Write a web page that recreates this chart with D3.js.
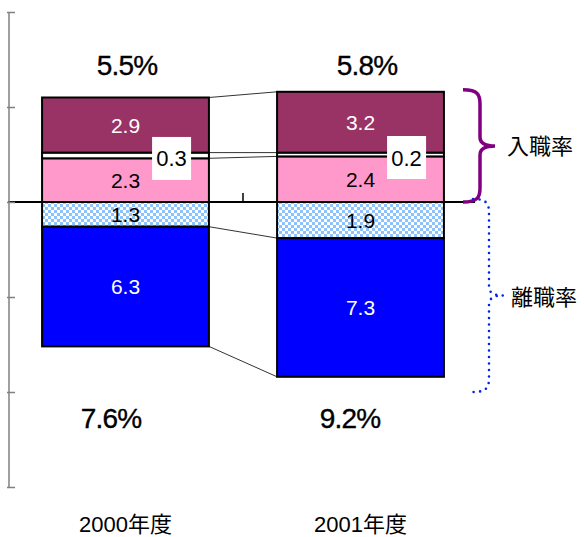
<!DOCTYPE html>
<html>
<head>
<meta charset="utf-8">
<script src="https://cdn.jsdelivr.net/npm/d3@7"></script>
<style>
  body { margin: 0; background: #fff; }
  text { font-family: "Liberation Sans", Arial, "Noto Sans CJK JP", sans-serif; }
</style>
</head>
<body>
<svg id="chart" width="584" height="537"></svg>
<script>
// Fiscal years
const years = ["2000年度", "2001年度"];
// 入職率 components (stacked upward from zero)
const entryLower = [2.3, 2.4];
const entrySmall = [0.3, 0.2];
const entryUpper = [2.9, 3.2];
// 離職率 components (stacked downward from zero)
const exitUpper = [1.3, 1.9];
const exitLower = [6.3, 7.3];
// Axis ticks (unlabelled)
const axisTicks = [-15, -10, -5, 0, 5, 10];
// Bracket captions
const groupLabels = ["入職率", "離職率"];

const svg = d3.select("#chart");

const x = d3.scaleBand().domain(years).range([8, 478])
  .paddingInner(0.29).paddingOuter(0.145);
const y = d3.scaleLinear().domain([-15, 10]).range([487, 12]);
const fmt = d3.format(".1f");

// checker pattern for the light-blue segment
const defs = svg.append("defs");
const pat = defs.append("pattern").attr("id", "chk")
  .attr("width", 6).attr("height", 6).attr("patternUnits", "userSpaceOnUse");
pat.append("rect").attr("width", 6).attr("height", 6).attr("fill", "#fff");
pat.append("rect").attr("width", 3).attr("height", 3).attr("fill", "#8CC3FF");
pat.append("rect").attr("x", 3).attr("y", 3).attr("width", 3).attr("height", 3).attr("fill", "#8CC3FF");

const positive = [
  { values: entryLower, fill: "#FF99CC", ink: "#000" },
  { values: entrySmall, fill: "#FFFFFF", ink: "#000", callout: true },
  { values: entryUpper, fill: "#993366", ink: "#fff" }
];
const negative = [
  { values: exitUpper, fill: "url(#chk)", ink: "#000" },
  { values: exitLower, fill: "#0000FF", ink: "#fff" }
];

// build segments with stacked extents
const segments = [];
const boundaries = years.map(() => []);
years.forEach((yr, i) => {
  let acc = 0;
  positive.forEach(s => {
    const v = s.values[i];
    segments.push({ yr, i, lo: acc, hi: acc + v, v, s });
    acc += v;
    boundaries[i].push(acc);
  });
  acc = 0;
  negative.forEach(s => {
    const v = s.values[i];
    segments.push({ yr, i, lo: acc - v, hi: acc, v, s });
    acc -= v;
    boundaries[i].push(acc);
  });
});

// connector lines between the two bars
const left = years[0], right = years[1];
const conn = svg.append("g");
boundaries[0].forEach((b, k) => {
  conn.append("line")
    .attr("x1", x(left) + x.bandwidth()).attr("y1", y(b))
    .attr("x2", x(right)).attr("y2", y(boundaries[1][k]))
    .attr("stroke", "#333").attr("stroke-width", 1);
});

// bar segments
svg.append("g").selectAll("rect").data(segments).join("rect")
  .attr("x", d => x(d.yr))
  .attr("y", d => y(d.hi))
  .attr("width", x.bandwidth())
  .attr("height", d => y(d.lo) - y(d.hi))
  .attr("fill", d => d.s.fill)
  .attr("stroke", "#000").attr("stroke-width", 2);

// zero line
svg.append("line")
  .attr("x1", 8).attr("x2", 475)
  .attr("y1", y(0)).attr("y2", y(0))
  .attr("stroke", "#000").attr("stroke-width", 2);

// category tick between the years
svg.append("line")
  .attr("x1", x(right) - x.step() * x.paddingInner() / 2)
  .attr("x2", x(right) - x.step() * x.paddingInner() / 2)
  .attr("y1", y(0) - 9).attr("y2", y(0))
  .attr("stroke", "#000").attr("stroke-width", 1.5);

// value axis
const axis = svg.append("g").attr("transform", "translate(9,0)")
  .call(d3.axisRight(y).tickValues(axisTicks).tickFormat("").tickSizeInner(6).tickSizeOuter(6));
axis.selectAll("path, line").attr("stroke", "#808080").attr("stroke-width", 1.5);
axis.select(".domain").remove();
axis.append("line").attr("x1", 0).attr("x2", 0)
  .attr("y1", y(10)).attr("y2", y(-15))
  .attr("stroke", "#808080").attr("stroke-width", 1.5);
axis.selectAll(".tick line").attr("x1", -2);

// segment value labels
const labels = svg.append("g");
segments.filter(d => !d.s.callout).forEach(d => {
  labels.append("text")
    .attr("x", x(d.yr) + x.bandwidth() / 2)
    .attr("y", (y(d.lo) + y(d.hi)) / 2 + 7.5)
    .attr("text-anchor", "middle")
    .attr("font-size", 21)
    .attr("fill", d.s.ink)
    .text(fmt(d.v));
});
// callout boxes for the thin segment
segments.filter(d => d.s.callout).forEach(d => {
  const cy = (y(d.lo) + y(d.hi)) / 2 + 3;
  const bx = x(d.yr) + 110;
  labels.append("rect")
    .attr("x", bx).attr("y", cy - 21.5)
    .attr("width", 39).attr("height", 43)
    .attr("fill", "#fff");
  labels.append("text")
    .attr("x", bx + 19.5).attr("y", cy + 8)
    .attr("text-anchor", "middle")
    .attr("font-size", 22)
    .attr("fill", "#000")
    .text(fmt(d.v));
});

// totals above and below
const totalShift = { top: [1.5, 6.5], bottom: [-14.5, -10.5] };
years.forEach((yr, i) => {
  const up = d3.sum(positive, s => s.values[i]);
  const down = d3.sum(negative, s => s.values[i]);
  const cx = x(yr) + x.bandwidth() / 2;
  [[up, totalShift.top[i], 75], [down, totalShift.bottom[i], 428]].forEach(([v, dx, by]) => {
    svg.append("text")
      .attr("x", cx + dx).attr("y", by)
      .attr("text-anchor", "middle").attr("font-size", 28)
      .attr("letter-spacing", -0.8)
      .attr("stroke", "#000").attr("stroke-width", 0.35)
      .text(fmt(v) + "%");
  });
});

// category labels
svg.append("g").selectAll("text").data(years).join("text")
  .attr("x", d => x(d) + x.bandwidth() / 2)
  .attr("y", 532)
  .attr("text-anchor", "middle")
  .attr("font-size", 22)
  .text(d => d);

// curly bracket path between top and bottom, tip pointing right
function brace(x0, xv, xt, top, bot) {
  const mid = (top + bot) / 2;
  return `M${x0},${top} C${xv - 2},${top} ${xv},${top + 5} ${xv},${top + 14}` +
    ` L${xv},${mid - 9} C${xv},${mid - 2} ${xv + 6},${mid} ${xt},${mid}` +
    ` C${xv + 6},${mid} ${xv},${mid + 2} ${xv},${mid + 9}` +
    ` L${xv},${bot - 14} C${xv},${bot - 5} ${xv - 2},${bot} ${x0},${bot}`;
}
const maxUp = d3.max(years, (yr, i) => d3.sum(positive, s => s.values[i]));
svg.append("path")
  .attr("d", brace(463, 480, 495, y(maxUp) - 2, y(0)))
  .attr("fill", "none").attr("stroke", "#800080").attr("stroke-width", 3.5);
svg.append("path")
  .attr("d", brace(473, 489, 503, y(0) - 3, y(-10)))
  .attr("fill", "none").attr("stroke", "#0022ee").attr("stroke-width", 2.6)
  .attr("stroke-linecap", "round").attr("stroke-dasharray", "0 6.5");

svg.append("text").attr("x", 507).attr("y", 154)
  .attr("font-size", 22).attr("font-family", "'Noto Sans CJK JP', sans-serif")
  .text(groupLabels[0]);
svg.append("text").attr("x", 511).attr("y", 305)
  .attr("font-size", 22).attr("font-family", "'Noto Sans CJK JP', sans-serif")
  .text(groupLabels[1]);
</script>
</body>
</html>
